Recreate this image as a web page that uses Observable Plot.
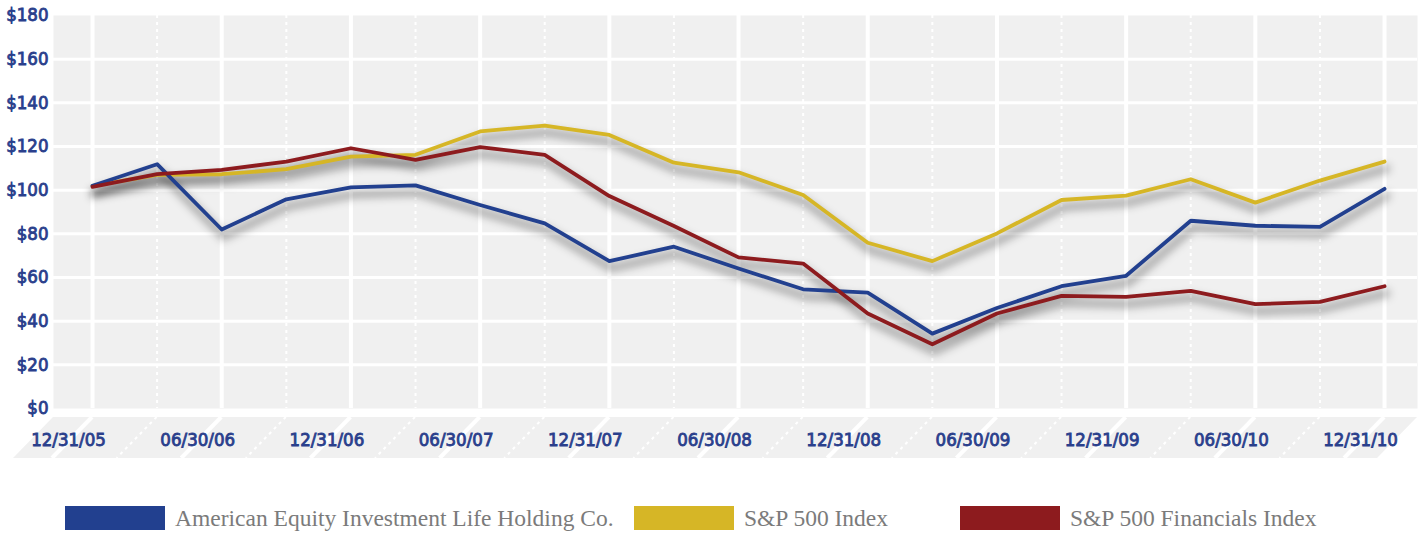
<!DOCTYPE html>
<html><head><meta charset="utf-8">
<script src="https://cdn.jsdelivr.net/npm/d3@7"></script>
<script src="https://cdn.jsdelivr.net/npm/@observablehq/plot@0.6"></script>
<style>
html,body{margin:0;padding:0;background:#fff;}
#wrap{position:relative;width:1424px;height:537px;overflow:hidden;}
#chart{position:absolute;left:0;top:0;}
#chart text{stroke:#2a3f8c;stroke-width:0.85px;}
.legend-item{position:absolute;top:506px;height:24px;display:flex;align-items:center;font-family:"Liberation Serif","DejaVu Serif",serif;font-size:23.5px;color:#7b7b7b;white-space:nowrap;}
.sw{width:100px;height:24px;margin-right:10px;flex:none;}
</style></head><body>
<div id="wrap"><div id="chart"></div><div id="legend"></div></div>
<script>
// Quarter-end dates (categories)
const quarters = ["12/31/05","03/31/06","06/30/06","09/30/06","12/31/06","03/31/07","06/30/07","09/30/07","12/31/07","03/31/08","06/30/08","09/30/08","12/31/08","03/31/09","06/30/09","09/30/09","12/31/09","03/31/10","06/30/10","09/30/10","12/31/10"];
// Semi-annual tick labels
const tickLabels = ["12/31/05","06/30/06","12/31/06","06/30/07","12/31/07","06/30/08","12/31/08","06/30/09","12/31/09","06/30/10","12/31/10"];
const yTicks = [0,20,40,60,80,100,120,140,160,180];
const seriesNames = ["American Equity Investment Life Holding Co.","S&P 500 Index","S&P 500 Financials Index"];
const seriesColors = ["#22408f","#d6b626","#8d1b1e"];

const ael   = [102,111.9,82,95.8,101.3,102.2,93.2,84.8,67.5,74.1,64.1,54.6,53.1,34.3,46,56,60.8,86,83.7,83.2,100.6];
const sp500 = [102,107,107.3,109.6,115.4,116.2,126.9,129.6,125.3,112.6,108.2,97.8,75.9,67.5,80.2,95.5,97.5,105,94.3,104.4,113.1];
const fin   = [101.5,107.3,109.3,113.1,119.2,113.9,119.7,116.2,97.3,83.6,69.2,66.4,43.5,29.4,43.5,51.6,51.1,53.9,47.8,48.8,56];

// drawing order: S&P 500, AEL, Financials
const rows = [];
[[sp500,1],[ael,0],[fin,2]].forEach(([vals,k]) => {
  vals.forEach((v,i) => rows.push({i, date: quarters[i], v, series: seriesNames[k]}));
});
const semiIdx = tickLabels.map((_,k) => 2*k);
const quarterIdx = quarters.map((_,i) => i).filter(i => i % 2 === 1);
const gridY = yTicks.filter(t => t > 0 && t < 180);

const font = '"DejaVu Sans Condensed","Liberation Sans Narrow",sans-serif';

const plot = Plot.plot({
  width: 1424,
  height: 470,
  marginTop: 15,
  marginBottom: 62,
  marginLeft: 53,
  marginRight: 7,
  style: {fontFamily: font, fontSize: "18.5px", color: "#2a3f8c", background: "transparent"},
  x: {type: "linear", domain: [-0.604, 20.51], label: null},
  y: {domain: [0, 180], label: null},
  color: {domain: seriesNames, range: seriesColors},
  marks: [
    Plot.frame({fill: "#f0f0f0", stroke: "none"}),
    Plot.ruleY(gridY, {stroke: "white", strokeWidth: 3}),
    Plot.ruleX(quarterIdx, {stroke: "white", strokeWidth: 2, strokeDasharray: "3,4"}),
    Plot.ruleX(semiIdx, {stroke: "white", strokeWidth: 4}),
    Plot.line(rows, {x: "i", y: "v", z: "series", stroke: "#000", strokeOpacity: 0.33, strokeWidth: 7, dy: 7, dx: 2}),
    Plot.line(rows, {x: "i", y: "v", z: "series", stroke: "series", strokeWidth: 3.8}),
    Plot.axisY(yTicks, {tickSize: 0, tickPadding: 5, tickFormat: d => "$" + d, label: null}),
    Plot.axisX(semiIdx, {tickSize: 0, tickPadding: 24, dx: -24, tickFormat: d => tickLabels[d / 2], label: null})
  ]
});

document.getElementById("chart").appendChild(plot);

// shadow blur
const svg = d3.select(plot);
const defs = svg.insert("defs", ":first-child");
defs.append("filter").attr("id", "shadowBlur").attr("x", "-5%").attr("y", "-30%").attr("width", "110%").attr("height", "160%")
  .append("feGaussianBlur").attr("stdDeviation", 4);
const lineGroups = plot.querySelectorAll('g[aria-label="line"]');
if (lineGroups.length) lineGroups[0].setAttribute("filter", "url(#shadowBlur)");

// perspective floor strip under the plot
const xs = plot.scale("x");
const [rx0, rx1] = xs.range;
const yTop = 417, yBot = 458, shift = 40;
const strip = d3.create("svg:g");
strip.append("path")
  .attr("d", `M${rx0},${yTop}L${rx1},${yTop}L${rx1 - shift},${yBot}L${rx0 - shift},${yBot}Z`)
  .attr("fill", "#f0f0f0");
strip.selectAll("line.q").data(quarterIdx).join("line")
  .attr("x1", d => xs.apply(d)).attr("y1", yTop).attr("x2", d => xs.apply(d) - shift).attr("y2", yBot)
  .attr("stroke", "white").attr("stroke-width", 2).attr("stroke-dasharray", "3,4");
strip.selectAll("line.s").data(semiIdx).join("line")
  .attr("x1", d => xs.apply(d)).attr("y1", yTop).attr("x2", d => xs.apply(d) - shift).attr("y2", yBot)
  .attr("stroke", "white").attr("stroke-width", 4);
const ref = plot.querySelector('[aria-label^="x-axis"]');
if (ref) plot.insertBefore(strip.node(), ref); else plot.insertBefore(strip.node(), plot.firstChild.nextSibling);

// legend
const legendPos = [65, 634, 960];
const legend = document.getElementById("legend");
seriesNames.forEach((name, k) => {
  const item = document.createElement("div");
  item.className = "legend-item";
  item.style.left = legendPos[k] + "px";
  const sw = document.createElement("div");
  sw.className = "sw";
  sw.style.background = seriesColors[k];
  const t = document.createElement("span");
  t.textContent = name;
  item.appendChild(sw);
  item.appendChild(t);
  legend.appendChild(item);
});
</script>
</body></html>
